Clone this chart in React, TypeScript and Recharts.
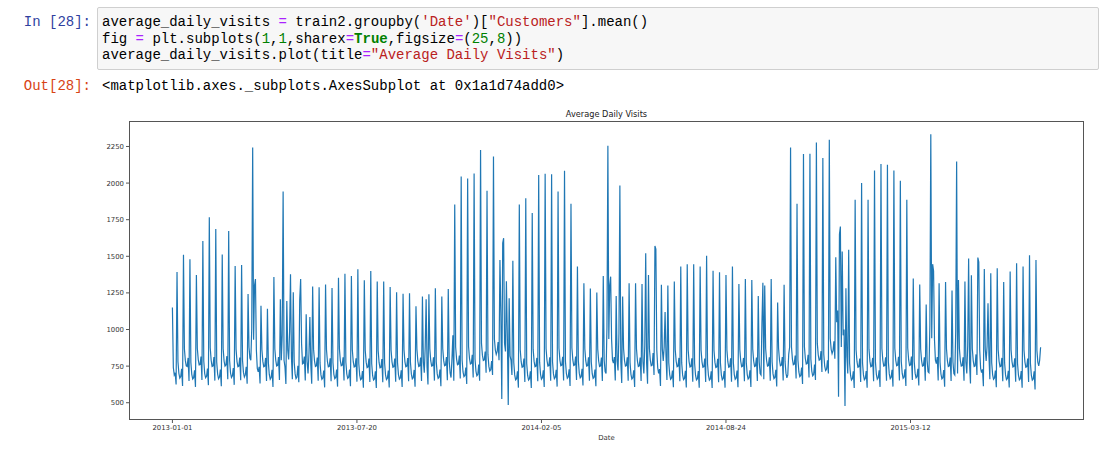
import React from "react";
import { LineChart, Line, XAxis, YAxis } from "recharts";

const START_DATE = "2013-01-01";

// mean customers per day, one row per week (Mon..Sun)
const visits2013 = [
  1150, 740, 690, 705, 625, 1393,
  782, 701, 668, 679, 731, 615, 1510,
  868, 789, 752, 748, 806, 648, 1480,
  776, 694, 662, 671, 722, 608, 1373,
  872, 795, 758, 760, 815, 655, 1605,
  785, 699, 671, 680, 733, 620, 1767,
  875, 790, 748, 752, 812, 651, 1687,
  779, 696, 664, 675, 726, 612, 1512,
  870, 785, 750, 757, 818, 660, 1673,
  788, 703, 672, 684, 737, 622, 1434,
  866, 781, 746, 750, 809, 654, 1441,
  790, 707, 676, 690, 745, 630, 1243,
  880, 805, 790, 1010, 2243, 930, 1300,
  1345, 860, 735, 710, 745, 632, 1163,
  862, 784, 745, 749, 806, 648, 1142,
  775, 693, 660, 672, 725, 607, 1359,
  868, 790, 751, 755, 812, 655, 1207,
  790, 960, 1942, 790, 745, 628, 1195,
  860, 795, 985, 1378, 812, 660, 1255,
  778, 697, 665, 676, 752, 640, 1205,
  1345, 905, 765, 770, 815, 652, 1104,
  782, 700, 835, 1085, 760, 630, 1293,
  866, 786, 748, 752, 808, 650, 1289,
  772, 690, 660, 668, 720, 605, 1307,
  864, 782, 745, 748, 804, 646, 1284,
  775, 694, 664, 672, 726, 610, 1354,
  870, 788, 752, 756, 810, 652, 1380,
  778, 696, 666, 674, 727, 612, 1366,
  862, 780, 744, 748, 803, 644, 1412,
  770, 688, 657, 664, 716, 603, 1336,
  858, 777, 740, 745, 801, 641, 1400,
  768, 686, 655, 662, 715, 600, 1327,
  856, 775, 738, 741, 798, 640, 1327,
  771, 690, 658, 667, 719, 604, 1291,
  860, 779, 742, 746, 802, 643, 1255,
  774, 692, 661, 669, 722, 607, 1245,
  863, 781, 745, 749, 805, 646, 1248,
  776, 695, 663, 671, 724, 609, 1159,
  866, 785, 748, 752, 808, 649, 1225,
  780, 705, 880, 1207, 745, 625, 1241,
  868, 787, 750, 754, 810, 651, 1282,
  779, 697, 666, 674, 727, 612, 1225,
  870, 789, 752, 756, 812, 653, 1277,
  785, 703, 672, 800, 960, 650, 1854,
  880, 798, 760, 764, 822, 665, 2045,
  792, 710, 678, 686, 740, 628, 2031,
  884, 802, 764, 768, 828, 672, 2065,
  798, 716, 684, 692, 760, 650, 2226,
  905, 825, 788, 792, 850, 705, 1947,
  830, 748, 716, 725, 785, 690, 2181,
  935, 860, 830, 850, 915, 790, 1475,
  1113, 525, 1590, 1624, 905, 850, 1330,
  960, 484,
];

const visits2014 = [
  1213, 820, 790, 690, 1470,
  775, 690, 656, 664, 715, 603, 1854,
  862, 780, 742, 746, 802, 642, 1897,
  770, 688, 655, 663, 714, 600, 1795,
  866, 784, 746, 750, 806, 646, 2056,
  777, 694, 661, 670, 722, 608, 2063,
  870, 788, 750, 754, 810, 650, 2060,
  780, 697, 664, 673, 725, 610, 1942,
  872, 790, 752, 756, 813, 652, 2084,
  783, 700, 667, 676, 728, 614, 1858,
  874, 792, 754, 758, 815, 655, 1430,
  785, 702, 670, 678, 731, 617, 1316,
  868, 787, 750, 753, 810, 650, 1280,
  780, 698, 666, 674, 727, 613, 1252,
  866, 785, 747, 751, 808, 648, 1366,
  790, 712, 700, 1015, 2255, 935, 1300,
  1361, 935, 790, 770, 812, 652, 1229,
  785, 720, 975, 1984, 780, 635, 1225,
  870, 788, 750, 754, 810, 650, 1316,
  776, 694, 662, 670, 722, 608, 1316,
  868, 786, 748, 752, 808, 648, 1310,
  780, 700, 890, 1521, 770, 630, 1373,
  870, 790, 752, 756, 840, 690, 1571,
  1550, 860, 740, 700, 730, 615, 1305,
  866, 785, 880, 1120, 820, 655, 1300,
  774, 692, 660, 668, 720, 606, 1327,
  864, 783, 746, 750, 806, 646, 1430,
  772, 690, 658, 666, 718, 604, 1446,
  862, 781, 744, 748, 804, 644, 1446,
  770, 688, 656, 664, 716, 602, 1430,
  860, 779, 742, 746, 802, 642, 1503,
  768, 686, 654, 662, 714, 600, 1402,
  858, 777, 740, 744, 800, 640, 1391,
  771, 689, 657, 665, 717, 603, 1373,
  861, 780, 743, 747, 803, 643, 1430,
  774, 692, 660, 668, 720, 606, 1310,
  864, 783, 746, 750, 806, 646, 1345,
  776, 694, 662, 670, 722, 608, 1338,
  866, 785, 748, 752, 808, 648, 1229,
  780, 700, 690, 1050, 1320, 660, 1300,
  870, 788, 750, 754, 810, 650, 1345,
  779, 697, 665, 673, 725, 611, 1184,
  872, 790, 752, 756, 812, 652, 1305,
  784, 702, 670, 690, 830, 880, 2243,
  880, 798, 760, 764, 822, 665, 1858,
  792, 710, 678, 686, 740, 628, 2198,
  884, 802, 764, 768, 828, 672, 2200,
  798, 716, 684, 692, 760, 655, 2277,
  905, 826, 790, 795, 852, 710, 2172,
  832, 750, 720, 728, 790, 700, 2296,
  940, 865, 835, 855, 920, 800, 1494,
  1050, 1130, 541, 1650, 1703, 880, 1532,
  960, 1000, 477,
];

const visits2015 = [
  1282, 820, 700, 1544,
  770, 688, 655, 663, 714, 600, 1886,
  862, 780, 742, 746, 802, 642, 2000,
  772, 690, 657, 665, 716, 602, 1886,
  866, 784, 746, 750, 806, 646, 2086,
  777, 694, 661, 670, 722, 608, 2130,
  870, 788, 750, 754, 810, 650, 2126,
  780, 697, 664, 673, 725, 610, 2086,
  872, 790, 752, 756, 813, 652, 2016,
  783, 700, 667, 676, 728, 614, 1886,
  874, 792, 754, 758, 815, 655, 1348,
  785, 702, 670, 678, 731, 617, 1307,
  868, 787, 750, 753, 810, 650, 1170,
  790, 712, 705, 1030, 2333, 940, 1446,
  1400, 930, 790, 768, 812, 652, 1316,
  778, 696, 663, 671, 723, 609, 1325,
  868, 786, 748, 752, 808, 648, 1266,
  780, 700, 690, 990, 2147, 700, 1338,
  870, 788, 750, 754, 810, 650, 1327,
  780, 700, 890, 1485, 770, 632, 1370,
  868, 786, 748, 752, 830, 690, 1491,
  1460, 860, 735, 705, 728, 612, 1414,
  866, 785, 885, 1180, 825, 660, 1385,
  774, 692, 660, 668, 720, 606, 1418,
  864, 783, 746, 750, 806, 646, 1325,
  772, 690, 658, 666, 718, 604, 1396,
  862, 781, 744, 748, 804, 644, 1453,
  770, 688, 656, 664, 716, 602, 1430,
  860, 779, 742, 746, 802, 642, 1507,
  768, 686, 654, 662, 714, 590, 1475,
  858, 777, 752, 790, 879,
];

const xTickLabels = ["2013-01-01", "2013-07-20", "2014-02-05", "2014-08-24", "2015-03-12"];
const yTicks = [500, 750, 1000, 1250, 1500, 1750, 2000, 2250];

const DAY_MS = 86400000;
const dayOf = (d: string) => Math.round((Date.parse(d) - Date.parse(START_DATE)) / DAY_MS);
const xTicks = xTickLabels.map(dayOf);

const visits = [...visits2013, ...visits2014, ...visits2015];
const data = visits.map((v, i) => ({ day: i, visits: v }));

// matplotlib's 5% margins round the data
const X_DOMAIN: [number, number] = [-47.05, 988.05];
const Y_DOMAIN: [number, number] = [382, 2424];

const tickStyle = { fontSize: 6.9, fill: "#333", fontFamily: "DejaVu Sans" };

type Seg = [string, string];
const COLORS: Record<string, string> = { n: "#000", op: "#AA22FF", s: "#BA2121", num: "#008000", kw: "#008000" };
const codeLines: Seg[][] = [
  [["average_daily_visits ", "n"], ["=", "op"], [" train2.groupby(", "n"], ["'Date'", "s"], [")[", "n"], ['"Customers"', "s"], ["].mean()", "n"]],
  [["fig ", "n"], ["=", "op"], [" plt.subplots(", "n"], ["1", "num"], [",", "n"], ["1", "num"], [",sharex", "n"], ["=", "op"], ["True", "kw"], [",figsize", "n"], ["=", "op"], ["(", "n"], ["25", "num"], [",", "n"], ["8", "num"], ["))", "n"]],
  [["average_daily_visits.plot(title", "n"], ["=", "op"], ['"Average Daily Visits"', "s"], [")", "n"]],
];

const mono = '"Liberation Mono", "DejaVu Sans Mono", monospace';

export default function App() {
  return (
    <div style={{ position: "absolute", left: 0, top: 0, width: 1110, height: 458, background: "#fff", overflow: "hidden" }}>
      {/* notebook cell */}
      <div style={{ position: "absolute", right: 1110 - 91, top: 14, fontFamily: mono, fontSize: 14, lineHeight: "16.5px", color: "#303F9F", whiteSpace: "pre" }}>In [28]:</div>
      <div style={{ position: "absolute", left: 97, top: 7, width: 1002, height: 63, boxSizing: "border-box", background: "#f7f7f7", border: "1px solid #cfcfcf", borderRadius: 2 }} />
      <div style={{ position: "absolute", left: 102, top: 14, fontFamily: mono, fontSize: 14, lineHeight: "16.5px", whiteSpace: "pre" }}>
        {codeLines.map((line, i) => (
          <div key={i}>
            {line.map(([t, k], j) => (
              <span key={j} style={{ color: COLORS[k], fontWeight: k === "kw" ? "bold" : "normal" }}>{t}</span>
            ))}
          </div>
        ))}
      </div>
      <div style={{ position: "absolute", right: 1110 - 91, top: 78, fontFamily: mono, fontSize: 14, lineHeight: "16.5px", color: "#D84315", whiteSpace: "pre" }}>Out[28]:</div>
      <div style={{ position: "absolute", left: 102, top: 78, fontFamily: mono, fontSize: 14, lineHeight: "16.5px", color: "#000", whiteSpace: "pre" }}>
        {"<matplotlib.axes._subplots.AxesSubplot at 0x1a1d74add0>"}
      </div>

      {/* chart */}
      <div style={{ position: "absolute", left: 129, top: 110, width: 955, textAlign: "center", fontFamily: "DejaVu Sans", fontSize: 8.2, lineHeight: "9px", color: "#222" }}>
        Average Daily Visits
      </div>
      <div style={{ position: "absolute", left: 0, top: 0 }}>
        <LineChart width={1110} height={458} data={data} margin={{ top: 121, right: 26, bottom: 18, left: 89 }}>
          <XAxis
            dataKey="day"
            type="number"
            domain={X_DOMAIN}
            allowDataOverflow
            ticks={xTicks}
            interval={0}
            tickFormatter={(v: number) => xTickLabels[xTicks.indexOf(v)] ?? ""}
            height={20}
            tickSize={3}
            tickMargin={2}
            axisLine={false}
            tickLine={{ stroke: "#555" }}
            tick={tickStyle}
          />
          <YAxis
            type="number"
            domain={Y_DOMAIN}
            allowDataOverflow
            ticks={yTicks}
            interval={0}
            width={40}
            tickSize={3}
            tickMargin={2}
            axisLine={false}
            tickLine={{ stroke: "#555" }}
            tick={tickStyle}
          />
          <Line dataKey="visits" type="linear" stroke="#1f77b4" strokeWidth={1.2} dot={false} isAnimationActive={false} />
        </LineChart>
      </div>
      <div style={{ position: "absolute", left: 129, top: 121, width: 955, height: 299, boxSizing: "border-box", border: "1px solid #555", pointerEvents: "none" }} />
      <div style={{ position: "absolute", left: 129, top: 434, width: 955, textAlign: "center", fontFamily: "DejaVu Sans", fontSize: 6.9, lineHeight: "8px", color: "#333" }}>
        Date
      </div>
    </div>
  );
}
